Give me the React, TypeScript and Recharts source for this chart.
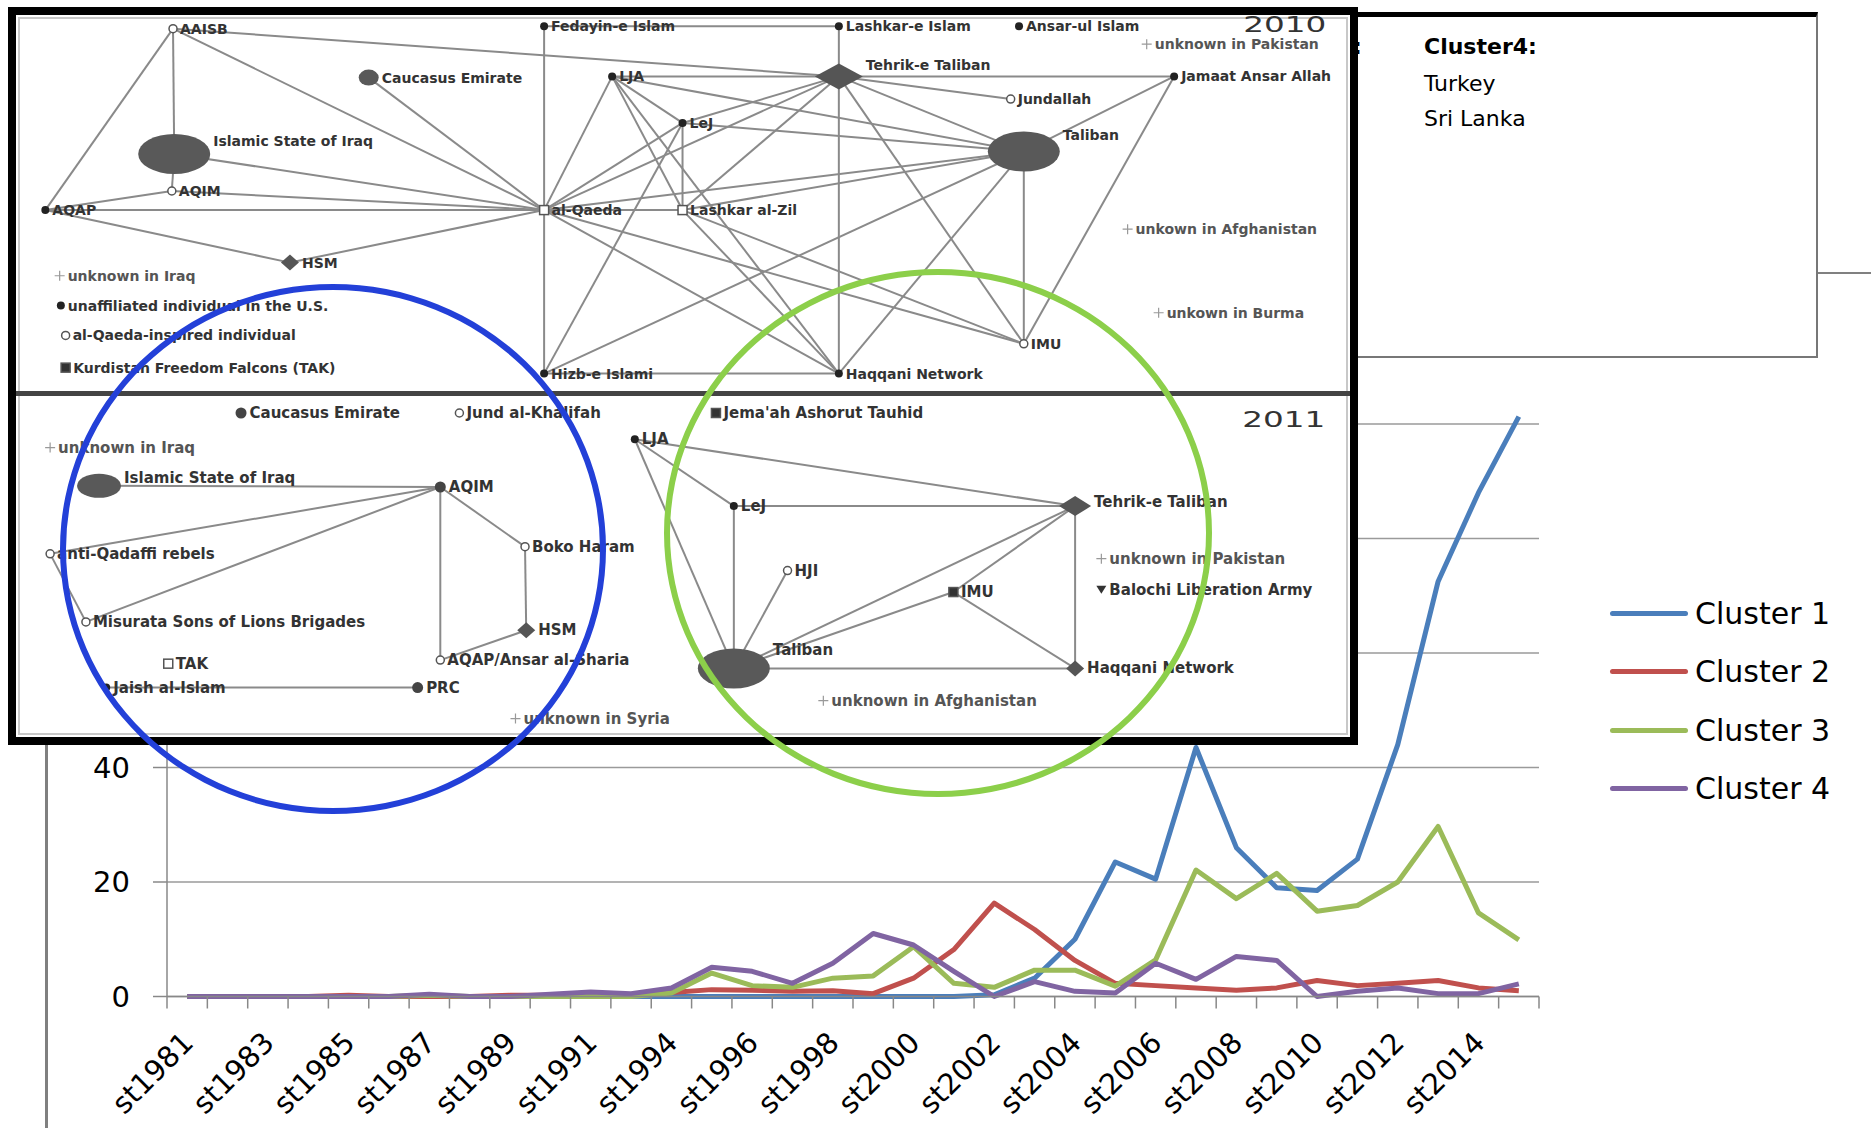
import {
  LineChart, Line, XAxis, YAxis, CartesianGrid, Legend,
  ScatterChart, Scatter, ReferenceLine,
} from 'recharts'

// categories (1993 is missing in the source data)
const YEARS = [
  'st1981', 'st1982', 'st1983', 'st1984', 'st1985', 'st1986', 'st1987', 'st1988', 'st1989', 'st1990',
  'st1991', 'st1992', 'st1994', 'st1995', 'st1996', 'st1997', 'st1998', 'st1999', 'st2000', 'st2001',
  'st2002', 'st2003', 'st2004', 'st2005', 'st2006', 'st2007', 'st2008', 'st2009', 'st2010', 'st2011',
  'st2012', 'st2013', 'st2014', 'st2015',
]

const CLUSTER_1 = [0, 0, 0, 0, 0, 0, 0, 0, 0, 0, 0, 0, 0, 0, 0, 0, 0, 0, 0, 0, 0.3, 3.2, 10, 23.5, 20.5, 43.5, 26, 19, 18.5, 24, 44, 72.5, 88, 101.3]
const CLUSTER_2 = [0, 0, 0, 0, 0.2, 0, 0, 0, 0.2, 0.2, 0.3, 0.2, 0.7, 1.2, 1.1, 0.9, 1, 0.5, 3.2, 8.2, 16.3, 11.7, 6.3, 2.3, 1.9, 1.5, 1.1, 1.5, 2.8, 1.9, 2.3, 2.8, 1.5, 1]
const CLUSTER_3 = [0, 0, 0, 0, 0, 0, 0.2, 0, 0, 0, 0, 0, 0.6, 4.1, 1.9, 1.6, 3.2, 3.6, 8.7, 2.3, 1.6, 4.6, 4.6, 1.8, 6.4, 22.1, 17.1, 21.5, 14.9, 15.9, 20, 29.7, 14.6, 9.9]
const CLUSTER_4 = [0, 0, 0, 0, 0, 0, 0.4, 0, 0, 0.4, 0.8, 0.5, 1.5, 5.1, 4.4, 2.3, 5.8, 11, 9, 4.4, 0, 2.6, 0.9, 0.6, 5.8, 3, 7, 6.3, 0, 0.9, 1.5, 0.5, 0.5, 2.2]

const Y_TICKS = [0, 20, 40, 60, 80, 100, 120]

const DATA = YEARS.map((year, idx) => ({
  idx, year, c1: CLUSTER_1[idx], c2: CLUSTER_2[idx], c3: CLUSTER_3[idx], c4: CLUSTER_4[idx],
}))

// tick marks sit between categories, labels on every second category
const X_TICKS: number[] = []
YEARS.forEach((_, i) => {
  X_TICKS.push(i - 0.5)
  if (i % 2 === 0) X_TICKS.push(i)
})
X_TICKS.push(YEARS.length - 0.5)

// network inset: [name, x, y, kind] in the inset's own units
const NODES_2010: [string, number, number, string][] = [
  ['AAISB', 145, 24, 'open'],
  ['Caucasus Emirate', 309, 65, 'mid'],
  ['Islamic State of Iraq', 146, 129, 'big'],
  ['AQIM', 144, 160, 'open'],
  ['AQAP', 38, 176, 'dot'],
  ['HSM', 243, 220, 'diamond'],
  ['unknown in Iraq', 50, 231, 'plus'],
  ['unaffiliated individual in the U.S.', 51, 256, 'dot'],
  ['al-Qaeda-inspired individual', 55, 281, 'open'],
  ['Kurdistan Freedom Falcons (TAK)', 55, 308, 'square'],
  ['Fedayin-e Islam', 456, 22, 'dot'],
  ['al-Qaeda', 456, 176, 'osq'],
  ['Hizb-e Islami', 456, 313, 'dot'],
  ['LJA', 513, 64, 'dot'],
  ['LeJ', 572, 103, 'dot'],
  ['Lashkar al-Zil', 572, 176, 'osq'],
  ['Lashkar-e Islam', 703, 22, 'dot'],
  ['Ansar-ul Islam', 854, 22, 'dot'],
  ['Tehrik-e Taliban', 703, 64, 'diamondL'],
  ['Jundallah', 847, 83, 'open'],
  ['Taliban', 858, 127, 'big'],
  ['Jamaat Ansar Allah', 984, 64, 'dot'],
  ['IMU', 858, 288, 'open'],
  ['Haqqani Network', 703, 313, 'dot'],
  ['unknown in Pakistan', 961, 37, 'plus'],
  ['unkown in Afghanistan', 945, 192, 'plus'],
  ['unkown in Burma', 971, 262, 'plus'],
]

const NODES_2011: [string, number, number, string][] = [
  ['Caucasus Emirate', 202, 346, 'dotL'],
  ['Jund al-Khalifah', 385, 346, 'open'],
  ["Jema'ah Ashorut Tauhid", 600, 346, 'square'],
  ['unknown in Iraq', 42, 375, 'plus'],
  ['Islamic State of Iraq', 83, 407, 'bigS'],
  ['AQIM', 369, 408, 'dotL'],
  ['anti-Qadaffi rebels', 42, 464, 'open'],
  ['Boko Haram', 440, 458, 'open'],
  ['Misurata Sons of Lions Brigades', 72, 521, 'open'],
  ['HSM', 441, 528, 'diamond'],
  ['TAK', 141, 556, 'osq'],
  ['AQAP/Ansar al-Sharia', 369, 553, 'open'],
  ['Jaish al-Islam', 89, 576, 'dot'],
  ['PRC', 350, 576, 'dotL'],
  ['unknown in Syria', 432, 602, 'plus'],
  ['LJA', 532, 368, 'dot'],
  ['LeJ', 615, 424, 'dot'],
  ['HJI', 660, 478, 'open'],
  ['IMU', 799, 496, 'square'],
  ['Taliban', 615, 560, 'big'],
  ['Tehrik-e Taliban', 901, 424, 'diamondM'],
  ['Haqqani Network', 901, 560, 'diamond'],
  ['unknown in Pakistan', 923, 468, 'plus'],
  ['Balochi Liberation Army', 923, 494, 'tri'],
  ['unknown in Afghanistan', 690, 587, 'plus'],
]

const EDGES_2010: [string, string][] = [
  ['AAISB', 'AQAP'], ['AAISB', 'Islamic State of Iraq'], ['Islamic State of Iraq', 'AQIM'], ['AAISB', 'al-Qaeda'],
  ['AAISB', 'Tehrik-e Taliban'], ['Caucasus Emirate', 'al-Qaeda'], ['Islamic State of Iraq', 'al-Qaeda'],
  ['AQIM', 'AQAP'], ['AQIM', 'al-Qaeda'], ['AQAP', 'al-Qaeda'], ['AQAP', 'HSM'], ['HSM', 'al-Qaeda'],
  ['Fedayin-e Islam', 'al-Qaeda'], ['al-Qaeda', 'Hizb-e Islami'], ['Fedayin-e Islam', 'Lashkar-e Islam'],
  ['LJA', 'Tehrik-e Taliban'], ['LJA', 'al-Qaeda'], ['LJA', 'LeJ'], ['LJA', 'Lashkar al-Zil'], ['LJA', 'Taliban'],
  ['LJA', 'Haqqani Network'], ['LeJ', 'Lashkar al-Zil'], ['LeJ', 'Tehrik-e Taliban'], ['LeJ', 'al-Qaeda'],
  ['LeJ', 'Taliban'], ['al-Qaeda', 'Lashkar al-Zil'], ['al-Qaeda', 'Tehrik-e Taliban'], ['al-Qaeda', 'Taliban'],
  ['al-Qaeda', 'Haqqani Network'], ['al-Qaeda', 'IMU'], ['Lashkar al-Zil', 'Taliban'],
  ['Lashkar al-Zil', 'Haqqani Network'], ['Lashkar al-Zil', 'IMU'], ['Lashkar al-Zil', 'Tehrik-e Taliban'],
  ['Hizb-e Islami', 'Haqqani Network'], ['Hizb-e Islami', 'LeJ'], ['Hizb-e Islami', 'Taliban'],
  ['Lashkar-e Islam', 'Tehrik-e Taliban'], ['Tehrik-e Taliban', 'Haqqani Network'], ['Tehrik-e Taliban', 'Jundallah'],
  ['Tehrik-e Taliban', 'Taliban'], ['Tehrik-e Taliban', 'IMU'], ['Tehrik-e Taliban', 'Jamaat Ansar Allah'],
  ['Taliban', 'IMU'], ['Taliban', 'Haqqani Network'], ['Taliban', 'Jamaat Ansar Allah'], ['Jamaat Ansar Allah', 'IMU'],
]

const EDGES_2011: [string, string][] = [
  ['Islamic State of Iraq', 'AQIM'], ['AQIM', 'anti-Qadaffi rebels'], ['AQIM', 'Misurata Sons of Lions Brigades'],
  ['AQIM', 'Boko Haram'], ['AQIM', 'AQAP/Ansar al-Sharia'], ['anti-Qadaffi rebels', 'Misurata Sons of Lions Brigades'],
  ['Boko Haram', 'HSM'], ['HSM', 'AQAP/Ansar al-Sharia'], ['Jaish al-Islam', 'PRC'],
  ['LJA', 'LeJ'], ['LJA', 'Taliban'], ['LJA', 'Tehrik-e Taliban'], ['LeJ', 'Tehrik-e Taliban'], ['LeJ', 'Taliban'],
  ['HJI', 'Taliban'], ['Taliban', 'Tehrik-e Taliban'], ['Taliban', 'IMU'], ['IMU', 'Tehrik-e Taliban'],
  ['IMU', 'Haqqani Network'], ['Tehrik-e Taliban', 'Haqqani Network'], ['Taliban', 'Haqqani Network'],
]

const PANEL_YEARS: [string, number, number][] = [['2010', 1042, 21], ['2011', 1041, 352]]

// marker sizes per node kind (half width, half height)
const KIND: Record<string, { w: number; h: number }> = {
  dot: { w: 4, h: 4 }, dotL: { w: 5.5, h: 5.5 }, mid: { w: 10, h: 8 }, open: { w: 4, h: 4 },
  osq: { w: 4.5, h: 4.5 }, square: { w: 4.5, h: 4.5 }, diamond: { w: 9, h: 8 }, diamondM: { w: 16, h: 10 },
  diamondL: { w: 24, h: 13 }, big: { w: 36, h: 20 }, bigS: { w: 22, h: 12 }, plus: { w: 5, h: 5 }, tri: { w: 5, h: 4 },
}

const LABEL_DY: Record<string, number> = {
  '2010|Islamic State of Iraq': -13, '2010|Tehrik-e Taliban': -11, '2010|Taliban': -17,
  '2011|Taliban': -18, '2011|Islamic State of Iraq': -8, '2011|Tehrik-e Taliban': -4,
}

const COLORS = ['#4a7ebb', '#c0504d', '#9bbb59', '#8064a2']
const FONT = 'DejaVu Sans'

const toPoints = (nodes: [string, number, number, string][], panel: string) =>
  nodes.map(([name, x, y, kind]) => ({ name, x, y, kind, panel }))

function edgeSegments(nodes: [string, number, number, string][], edges: [string, string][]) {
  const pos: Record<string, { x: number; y: number }> = {}
  nodes.forEach(([n, x, y]) => { pos[n] = { x, y } })
  return edges.filter(([a, b]) => pos[a] && pos[b]).map(([a, b]) => [pos[a], pos[b]])
}

function NodeShape(props: any) {
  const { cx, cy, payload } = props
  const k = KIND[payload.kind]
  let mark = null
  switch (payload.kind) {
    case 'dot': case 'dotL':
      mark = <circle cx={cx} cy={cy} r={k.w} fill={payload.kind === 'dot' ? '#222' : '#444'} />
      break
    case 'open':
      mark = <circle cx={cx} cy={cy} r={k.w} fill="#fff" stroke="#555" strokeWidth={1.5} />
      break
    case 'osq': case 'square':
      mark = <rect x={cx - k.w} y={cy - k.h} width={k.w * 2} height={k.h * 2}
        fill={payload.kind === 'square' ? '#333' : '#fff'} stroke="#555" strokeWidth={1.5} />
      break
    case 'diamond': case 'diamondM': case 'diamondL':
      mark = <polygon points={`${cx - k.w},${cy} ${cx},${cy - k.h} ${cx + k.w},${cy} ${cx},${cy + k.h}`} fill="#555" />
      break
    case 'mid': case 'big': case 'bigS':
      mark = <ellipse cx={cx} cy={cy} rx={k.w} ry={k.h} fill="#595959" />
      break
    case 'plus':
      mark = <path d={`M${cx - k.w},${cy}H${cx + k.w}M${cx},${cy - k.h}V${cy + k.h}`} stroke="#999" strokeWidth={1.2} />
      break
    case 'tri':
      mark = <polygon points={`${cx - k.w},${cy - k.h} ${cx + k.w},${cy - k.h} ${cx},${cy + k.h}`} fill="#333" />
      break
  }
  const dy = LABEL_DY[`${payload.panel}|${payload.name}`] ?? 0
  return (
    <g>
      {mark}
      <text x={cx + k.w + 3} y={cy + dy} dominantBaseline="central" fontFamily={FONT} fontWeight="bold"
        fontSize={payload.panel === '2010' ? 14 : 15} fill={payload.kind === 'plus' ? '#555' : '#333'}>
        {payload.name}
      </text>
    </g>
  )
}

function YearTag(props: any) {
  const { cx, cy, payload } = props
  return (
    <text x={cx} y={cy} dominantBaseline="central" fontFamily={FONT} fontSize={21} textLength={83}
      lengthAdjust="spacingAndGlyphs" fill="#333">
      {payload.name}
    </text>
  )
}

function XTick({ x, y, payload }: any) {
  const v = payload.value
  if (!Number.isInteger(v)) return <line x1={x} y1={y} x2={x} y2={y + 12} stroke="#888" strokeWidth={1.5} />
  const tx = x + 8
  const ty = y + 48
  return (
    <text x={tx} y={ty} textAnchor="end" transform={`rotate(-45 ${tx} ${ty})`} fontFamily={FONT} fontSize={29} fill="#000">
      {YEARS[v]}
    </text>
  )
}

function LegendBox({ payload }: any) {
  return (
    <div style={{ fontFamily: FONT, fontSize: 30, color: '#000' }}>
      {(payload || []).map((e: any) => (
        <div key={e.value} style={{ display: 'flex', alignItems: 'center', height: 58.5 }}>
          <div style={{ width: 78, height: 5, background: e.color, borderRadius: 3 }} />
          <span style={{ marginLeft: 7 }}>{e.value}</span>
        </div>
      ))}
    </div>
  )
}

const abs = (z: number): React.CSSProperties => ({ position: 'absolute', left: 0, top: 0, zIndex: z })

export default function App() {
  const seg2010 = edgeSegments(NODES_2010, EDGES_2010)
  const seg2011 = edgeSegments(NODES_2011, EDGES_2011)
  return (
    <div style={{ position: 'absolute', left: 0, top: 0, width: 1871, height: 1128, overflow: 'hidden', background: '#fff' }}>
      {/* chart area border */}
      <div style={{ position: 'absolute', left: 45, top: 272, width: 1900, height: 1000, borderLeft: '3px solid #808080', borderTop: '2px solid #808080', zIndex: 0 }} />

      <div style={abs(1)}>
        <LineChart width={1871} height={1128} data={DATA} margin={{ top: 309.5, right: 332, bottom: 31.5, left: 17 }}>
          <CartesianGrid vertical={false} stroke="#9a9a9a" strokeWidth={1.5} />
          <XAxis type="number" dataKey="idx" domain={[-0.5, YEARS.length - 0.5]} ticks={X_TICKS} interval={0}
            tickLine={false} tickSize={0} tickMargin={0} height={100} allowDecimals
            axisLine={{ stroke: '#888', strokeWidth: 1.5 }} tick={<XTick />} />
          <YAxis domain={[0, 120]} ticks={Y_TICKS} width={150} tickSize={14} tickMargin={23} interval={0}
            axisLine={{ stroke: '#888', strokeWidth: 1.5 }} tickLine={{ stroke: '#888', strokeWidth: 1.5 }}
            tick={{ fontFamily: FONT, fontSize: 29, fill: '#000' }} />
          <Legend layout="horizontal" verticalAlign="middle" align="center" content={<LegendBox />}
            wrapperStyle={{ left: 1610, top: 584, width: 260 }} />
          <Line dataKey="c1" name="Cluster 1" stroke={COLORS[0]} strokeWidth={5} dot={false} strokeLinejoin="round" isAnimationActive={false} />
          <Line dataKey="c2" name="Cluster 2" stroke={COLORS[1]} strokeWidth={5} dot={false} strokeLinejoin="round" isAnimationActive={false} />
          <Line dataKey="c3" name="Cluster 3" stroke={COLORS[2]} strokeWidth={5} dot={false} strokeLinejoin="round" isAnimationActive={false} />
          <Line dataKey="c4" name="Cluster 4" stroke={COLORS[3]} strokeWidth={5} dot={false} strokeLinejoin="round" isAnimationActive={false} />
        </LineChart>
      </div>

      {/* cluster list box behind the inset */}
      <div style={{ position: 'absolute', left: 1340, top: 12, width: 478, height: 346, boxSizing: 'border-box', background: '#fff', borderTop: '5px solid #000', borderRight: '2px solid #777', borderBottom: '2px solid #777', zIndex: 2 }} />
      <svg width={1871} height={400} style={abs(3)}>
        <text x={1353} y={54} fontFamily={FONT} fontWeight="bold" fontSize={22} fill="#000">:</text>
        <text x={1424} y={54} fontFamily={FONT} fontWeight="bold" fontSize={22} fill="#000">Cluster4:</text>
        <text x={1424} y={91} fontFamily={FONT} fontSize={22} fill="#000">Turkey</text>
        <text x={1424} y={126} fontFamily={FONT} fontSize={22} fill="#000">Sri Lanka</text>
      </svg>

      {/* network inset frame */}
      <div style={{ position: 'absolute', left: 8, top: 7, width: 1350, height: 738, boxSizing: 'border-box', border: '8px solid #000', background: '#fff', zIndex: 4 }}>
        <div style={{ position: 'absolute', inset: 2, border: '2px solid #c8c8c8' }} />
        <div style={{ position: 'absolute', left: 0, right: 0, top: 376, height: 5, background: '#444' }} />
      </div>

      <div style={{ ...abs(5), pointerEvents: 'none' }}>
        <ScatterChart width={1871} height={1128} margin={{ top: 0, right: 0, bottom: 0, left: 0 }}>
          <XAxis type="number" dataKey="x" domain={[0, 1568]} hide />
          <YAxis type="number" dataKey="y" domain={[0, 945]} reversed hide />
          {[...seg2010, ...seg2011].map((s, i) => (
            <ReferenceLine key={i} segment={s} stroke="#8a8a8a" strokeWidth={2} ifOverflow="visible" />
          ))}
          <Scatter data={toPoints(NODES_2010, '2010')} shape={<NodeShape />} isAnimationActive={false} />
          <Scatter data={toPoints(NODES_2011, '2011')} shape={<NodeShape />} isAnimationActive={false} />
          <Scatter data={PANEL_YEARS.map(([name, x, y]) => ({ name, x, y }))} shape={<YearTag />} isAnimationActive={false} />
        </ScatterChart>
      </div>

      {/* highlight rings */}
      <div style={{ position: 'absolute', left: 60, top: 284, width: 546, height: 530, boxSizing: 'border-box', border: '6px solid #2340d8', borderRadius: '50%', zIndex: 6 }} />
      <div style={{ position: 'absolute', left: 664, top: 269, width: 548, height: 528, boxSizing: 'border-box', border: '6px solid #8ccf4a', borderRadius: '50%', zIndex: 6 }} />
    </div>
  )
}
